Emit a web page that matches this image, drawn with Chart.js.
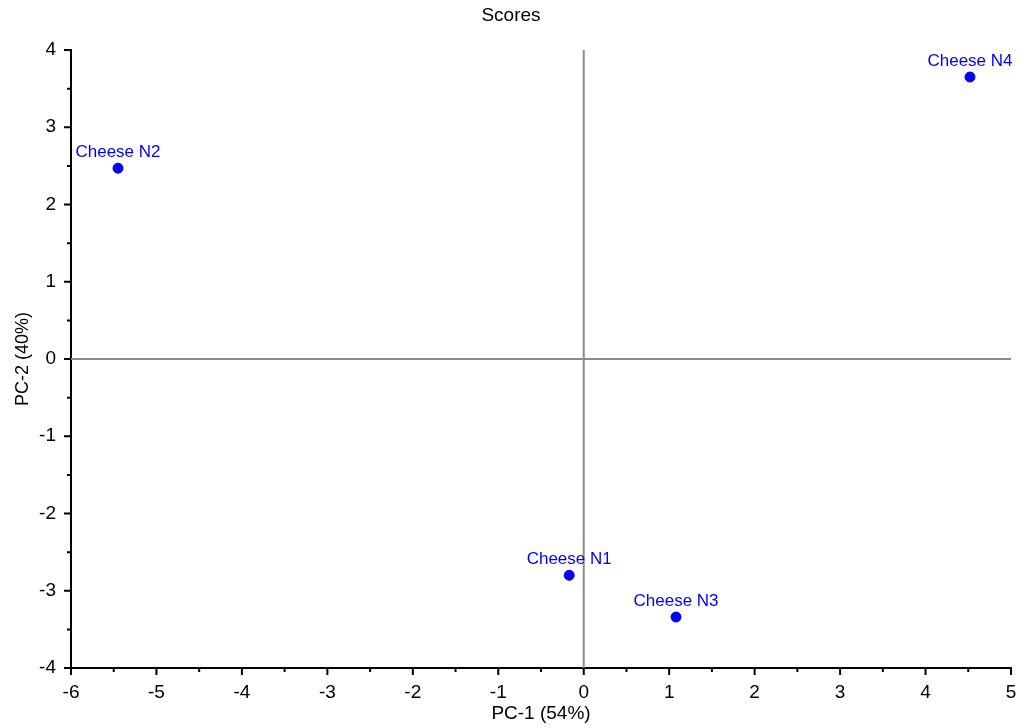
<!DOCTYPE html>
<html>
<head>
<meta charset="utf-8">
<script src="https://cdn.jsdelivr.net/npm/chart.js@4"></script>
<style>
  body { margin: 0; background: #fff; }
  #wrap { width: 1022px; height: 728px; }
</style>
</head>
<body>
<div id="wrap"><canvas id="scores" width="1022" height="728"></canvas></div>
<script>
// Score values
const sampleNames = ['Cheese N1', 'Cheese N2', 'Cheese N3', 'Cheese N4'];
const pc1Values = [-0.17, -5.45, 1.08, 4.52];
const pc2Values = [-2.80, 2.47, -3.34, 3.65];
const xTickValues = [-6, -5, -4, -3, -2, -1, 0, 1, 2, 3, 4, 5];
const yTickValues = [-4, -3, -2, -1, 0, 1, 2, 3, 4];

const font = "'Liberation Sans', Arial, sans-serif";

// zero lines, ticks, title and point labels
const decorations = {
    id: 'decorations',
    beforeDatasetsDraw(chart) {
        const { ctx, chartArea, scales } = chart;
        const x0 = scales.x.getPixelForValue(0);
        const y0 = scales.y.getPixelForValue(0);
        ctx.save();
        ctx.strokeStyle = '#8c8c8c';
        ctx.lineWidth = 2;
        ctx.beginPath();
        ctx.moveTo(x0, chartArea.top);
        ctx.lineTo(x0, chartArea.bottom);
        ctx.moveTo(chartArea.left, y0);
        ctx.lineTo(chartArea.right, y0);
        ctx.stroke();
        ctx.restore();
    },
    afterDraw(chart) {
        const { ctx, chartArea, scales } = chart;
        ctx.save();
        ctx.strokeStyle = '#000';
        ctx.lineWidth = 2;
        ctx.beginPath();
        for (let v = -6; v <= 5.001; v += 0.5) {
            const px = scales.x.getPixelForValue(v);
            const len = Number.isInteger(v) ? 7 : 4;
            ctx.moveTo(px, chartArea.bottom);
            ctx.lineTo(px, chartArea.bottom + len);
        }
        for (let v = -4; v <= 4.001; v += 0.5) {
            const py = scales.y.getPixelForValue(v);
            const len = Number.isInteger(v) ? 7 : 4;
            ctx.moveTo(chartArea.left, py);
            ctx.lineTo(chartArea.left - len, py);
        }
        ctx.stroke();

        ctx.fillStyle = '#000';
        ctx.font = '19px ' + font;
        ctx.textAlign = 'center';
        ctx.textBaseline = 'middle';
        ctx.fillText('Scores', chart.width / 2, 16);

        // labels above each point
        const meta = chart.getDatasetMeta(0);
        ctx.fillStyle = '#0000ff';
        ctx.font = '17px ' + font;
        ctx.textBaseline = 'alphabetic';
        meta.data.forEach((pt, i) => {
            ctx.fillText(sampleNames[i], pt.x, pt.y - 11);
        });
        ctx.restore();
    }
};

new Chart(document.getElementById('scores'), {
    type: 'scatter',
    data: {
        datasets: [{
            label: 'Scores',
            data: pc1Values.map((x, i) => ({ x: x, y: pc2Values[i] })),
            backgroundColor: '#0000ff',
            borderColor: '#0000ff',
            pointRadius: 5,
            pointHoverRadius: 5
        }]
    },
    options: {
        responsive: false,
        animation: false,
        layout: { padding: { top: 50, right: 11, left: 12, bottom: 0 } },
        plugins: {
            legend: { display: false },
            tooltip: { enabled: false }
        },
        scales: {
            x: {
                type: 'linear',
                min: -6,
                max: 5,
                afterBuildTicks: (scale) => { scale.ticks = xTickValues.map(v => ({ value: v })); },
                afterFit: (scale) => {
                    scale.height = 60;
                    scale.paddingLeft = 0;
                    scale.paddingRight = 0;
                },
                grid: { display: false, drawTicks: false },
                border: { color: '#000', width: 2 },
                ticks: { color: '#000', font: { family: font, size: 19 }, padding: 13 },
                title: { display: true, text: 'PC-1 (54%)', color: '#000', font: { family: font, size: 19 }, padding: { top: 0, bottom: 3 } }
            },
            y: {
                type: 'linear',
                min: -4,
                max: 4,
                afterBuildTicks: (scale) => { scale.ticks = yTickValues.map(v => ({ value: v })); },
                afterFit: (scale) => {
                    scale.width = 59;
                    scale.paddingTop = 0;
                    scale.paddingBottom = 0;
                },
                grid: { display: false, drawTicks: false },
                border: { color: '#000', width: 2 },
                ticks: { color: '#000', font: { family: font, size: 19 }, padding: 15 },
                title: { display: true, text: 'PC-2 (40%)', color: '#000', font: { family: font, size: 18 }, padding: { top: 0, bottom: 0 } }
            }
        }
    },
    plugins: [decorations]
});
</script>
</body>
</html>
